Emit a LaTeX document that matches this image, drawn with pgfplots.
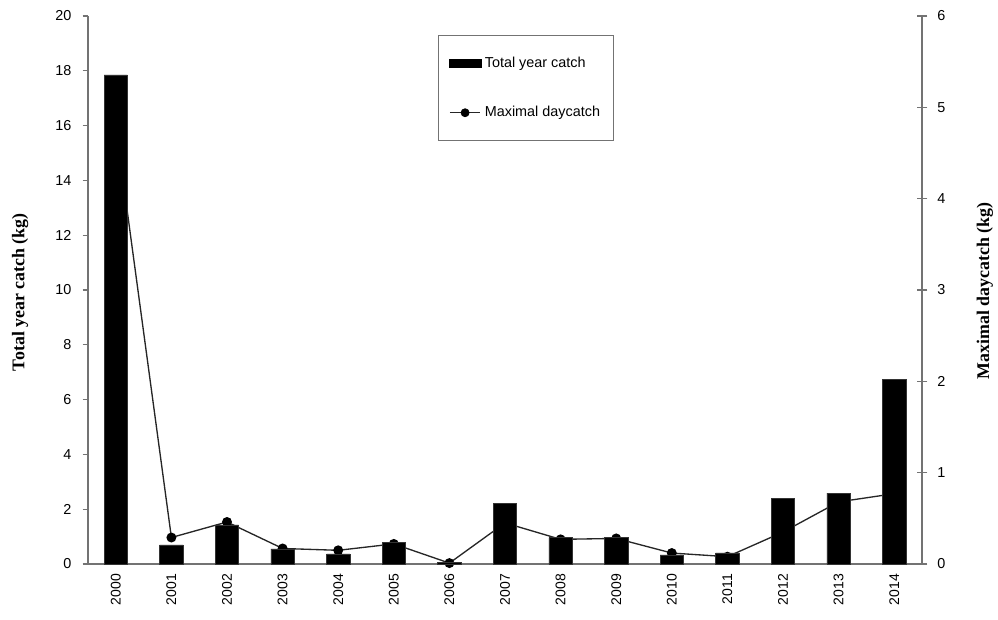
\documentclass[border=0pt]{standalone}
\usepackage{fontspec}
\setmainfont{Liberation Sans}
\newfontfamily\serifb{Liberation Serif}
\usepackage{pgfplots}
\pgfplotsset{compat=1.18}
\begin{document}
\begin{tikzpicture}
\useasboundingbox (0,0) rectangle (748.5pt,464.25pt);
\pgfplotsset{
  base/.style={
    scale only axis,
    width=625.5pt, height=411pt,
    at={(66pt,41.25pt)}, anchor=south west,
    xmin=-0.5, xmax=14.5,
    ymin=0,
    tick label style={font=\fontsize{10.8}{12}\selectfont, /pgf/number format/assume math mode=true},
    axis line style={draw=black!55, line width=0.8pt},
    tick style={draw=black!55, line width=0.8pt},
  }
}
% right axis: line (drawn first, behind bars)
\begin{axis}[base,
  axis x line=none,
  axis y line*=right,
  ymax=6, ytick={0,1,2,3,4,5,6},
  ytick align=center, major tick length=8pt,
  yticklabel style={xshift=4pt},
  ylabel={\serifb\bfseries\fontsize{13.4}{15}\selectfont Maximal daycatch (kg)},
  ylabel style={at={(axis description cs:1.0755,0.498)}, anchor=center, rotate=0},
]
\addplot[black!85, line width=1pt, mark=*, mark size=3.2pt, mark options={fill=black, draw=black}]
coordinates {(0,4.79) (1,0.29) (2,0.46) (3,0.17) (4,0.15) (5,0.22) (6,0.01) (7,0.45) (8,0.27) (9,0.28) (10,0.12) (11,0.08) (12,0.35) (13,0.68) (14,0.77)};
\end{axis}
% left axis: bars
\begin{axis}[base,
  axis y line*=left,
  axis x line*=bottom,
  ymax=20, ytick={0,2,...,20},
  ytick align=outside, major tick length=4pt,
  yticklabel style={xshift=-5pt},
  xtick={0,...,14},
  xticklabels={2000,2001,2002,2003,2004,2005,2006,2007,2008,2009,2010,2011,2012,2013,2014},
  xtick style={draw=none},
  minor xtick={0.5,1.5,...,13.5},
  minor tick length=3pt,
  xtick align=outside,
  minor tick style={draw=black!55, line width=0.8pt},
  xticklabel style={rotate=90, anchor=east, font=\fontsize{10.5}{12}\selectfont},
  ylabel={\serifb\bfseries\fontsize{13.4}{15}\selectfont Total year catch (kg)},
  ylabel style={at={(axis description cs:-0.0815,0.496)}, anchor=center},
  legend style={at={(0.4197,0.9653)}, anchor=north west, draw=black!55, line width=0.6pt,
    font=\fontsize{10.8}{12}\selectfont, inner xsep=8pt, inner ysep=14pt, row sep=24pt,
    legend cell align=left},
]
\addlegendimage{legend image code/.code={\fill[black] (0pt,-3pt) rectangle (24pt,3pt);}}
\addlegendentry{Total year catch}
\addlegendimage{legend image code/.code={\draw[black!85, line width=1pt] (0pt,0pt) -- (23pt,0pt); \fill[black] (11.5pt,0pt) circle (3pt);}}
\addlegendentry{Maximal daycatch}
\addplot[ybar, bar width=0.42, fill=black, draw=black!80, forget plot]
coordinates {(0,17.85) (1,0.70) (2,1.43) (3,0.55) (4,0.37) (5,0.78) (6,0.07) (7,2.2) (8,0.96) (9,0.96) (10,0.33) (11,0.41) (12,2.4) (13,2.59) (14,6.74)};
\end{axis}
\end{tikzpicture}
\end{document}
